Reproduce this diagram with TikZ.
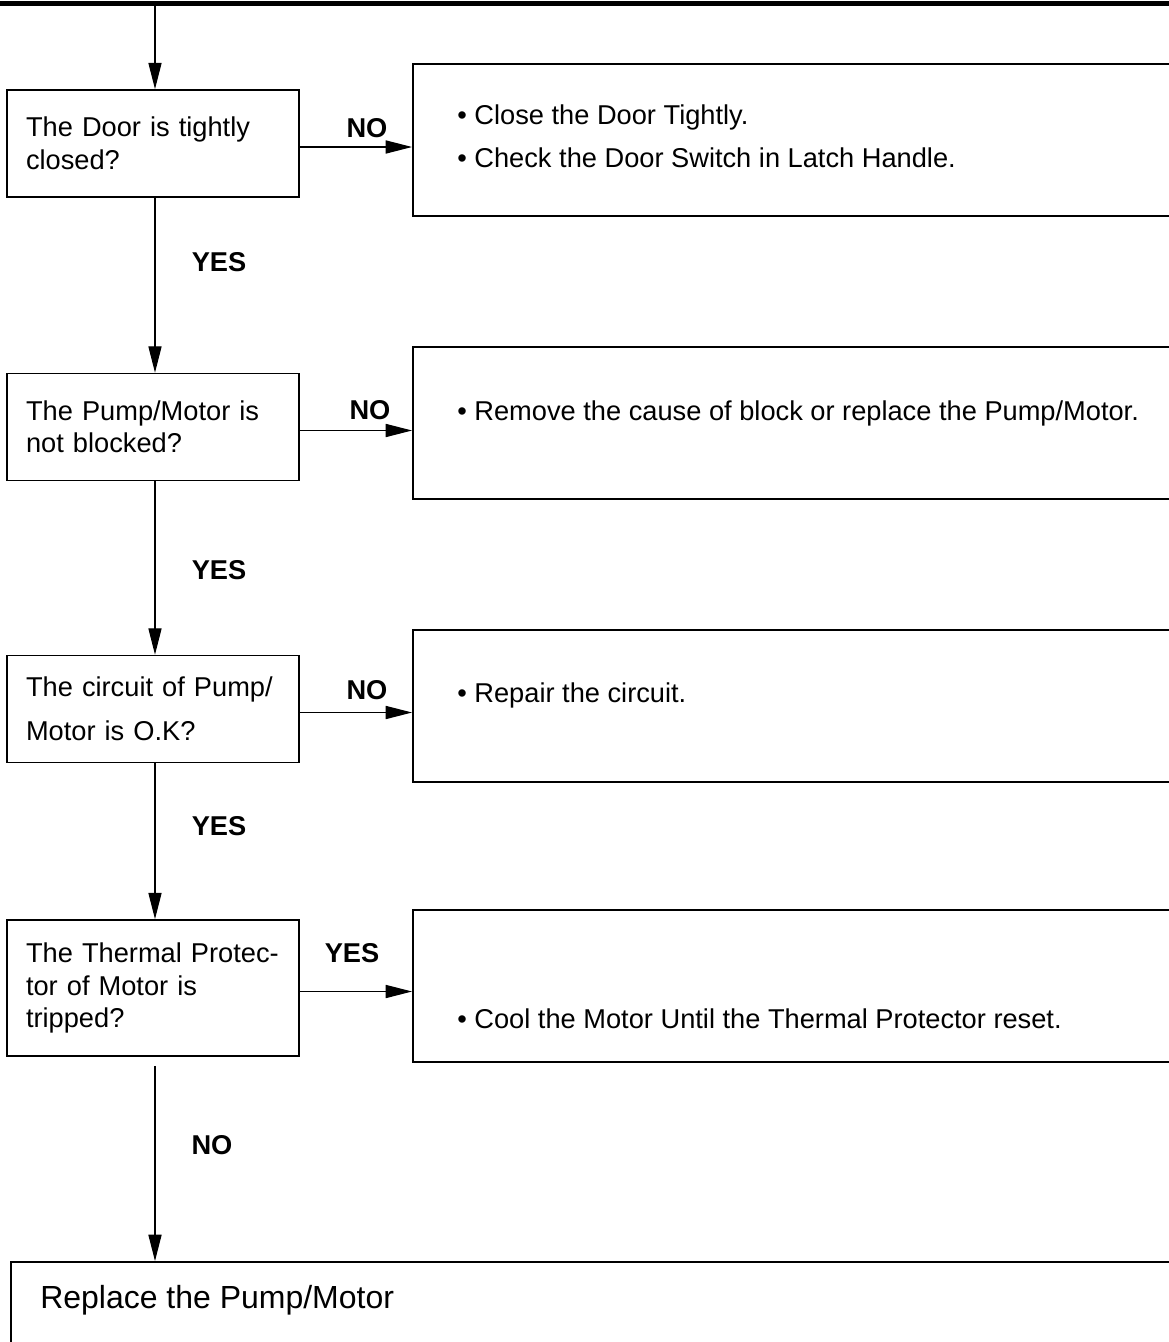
\documentclass[tikz,border=0pt]{standalone}
\usepackage{fontspec}
\setmainfont{Liberation Sans}
\usetikzlibrary{arrows.meta,positioning}
\tikzset{
  qbox/.style={
    rectangle, draw=black, line width=1pt,
    minimum width=5.84cm, minimum height=2.14cm,
    text width=5.08cm, inner xsep=0.38cm, align=left,
    font=\fontsize{15.5}{18.5}\selectfont
  },
  fixbox/.style={
    rectangle, draw=black, line width=1pt,
    minimum width=16cm, minimum height=3.04cm, anchor=west
  },
  fixtext/.style={
    anchor=west, align=left, inner sep=0pt,
    font=\fontsize{15.5}{18.5}\selectfont
  },
  answer/.style={
    font=\bfseries\fontsize{15.5}{18}\selectfont, inner sep=1pt
  },
  flowarrow/.style={
    -{Triangle[length=15pt,width=7.5pt]}, line width=0.6pt, color=black
  },
}
\begin{document}
\begin{tikzpicture}[x=0.02cm,y=-0.02cm]
  \useasboundingbox (0,0) rectangle (1169,1342);
  \clip (0,0) rectangle (1169,1342);

  % page rule at the top
  \draw[line width=2.3pt] (0,3.5) -- (1169,3.5);
  \coordinate (top) at (155,4);

  % questions
  \node[qbox] (q1) at (153,143.5) {The Door is tightly\\closed?};
  \node[qbox] (q2) at (153,427) {The Pump/Motor is\\not blocked?};
  \node[qbox, font=\fontsize{15.5}{25}\selectfont] (q3) at (153,709)
    {The circuit of Pump/\\Motor is O.K?};
  \node[qbox, minimum height=2.72cm] (q4) at (153,988)
    {The Thermal Protec-\\tor of Motor is\\tripped?};

  % remedies
  \node[fixbox] (fix1) at (412,140) {};
  \node[fixbox] (fix2) at (412,423) {};
  \node[fixbox] (fix3) at (412,706) {};
  \node[fixbox] (fix4) at (412,986) {};
  \node[fixtext] (fix1txt) at (457,136.5)
    {• Close the Door Tightly.\\[6pt]• Check the Door Switch in Latch Handle.};
  \node[fixtext] (fix2txt) at (457,413)
    {• Remove the cause of block or replace the Pump/Motor.};
  \node[fixtext] (fix3txt) at (457,695) {• Repair the circuit.};
  \node[fixtext] (fix4txt) at (457,1019)
    {• Cool the Motor Until the Thermal Protector reset.};

  \node[rectangle, draw=black, line width=1pt, anchor=north west,
    minimum width=24cm, minimum height=3cm] (repl) at (10,1261) {};
  \node[anchor=west, inner sep=0pt, font=\fontsize{18.2}{22}\selectfont]
    (repltxt) at (40,1300) {Replace the Pump/Motor};

  % answers
  \node[answer] (no1) at (367,128) {NO};
  \node[answer] (no2) at (370,410) {NO};
  \node[answer] (no3) at (367,690) {NO};
  \node[answer] (yes4) at (352,953) {YES};
  \node[answer] (yes1) at (219,262) {YES};
  \node[answer] (yes2) at (219,570) {YES};
  \node[answer] (yes3) at (219,826) {YES};
  \node[answer] (no4) at (212,1145) {NO};

  \draw[flowarrow] (top) -- (top |- q1.north);
  \draw[flowarrow] ([xshift=0.04cm]q1.south) -- ([xshift=0.04cm]q2.north);
  \draw[flowarrow] ([xshift=0.04cm]q2.south) -- ([xshift=0.04cm]q3.north);
  \draw[flowarrow] ([xshift=0.04cm]q3.south) -- ([xshift=0.04cm]q4.north);
  \draw[flowarrow] ([xshift=0.04cm,yshift=-0.18cm]q4.south)
    -- ([xshift=0.04cm]q4.south |- repl.north);

  \draw[flowarrow] ([yshift=-0.07cm]q1.east) -- ([yshift=-0.07cm]q1.east -| fix1.west);
  \draw[flowarrow] ([yshift=-0.07cm]q2.east) -- ([yshift=-0.07cm]q2.east -| fix2.west);
  \draw[flowarrow] ([yshift=-0.07cm]q3.east) -- ([yshift=-0.07cm]q3.east -| fix3.west);
  \draw[flowarrow] ([yshift=-0.07cm]q4.east) -- ([yshift=-0.07cm]q4.east -| fix4.west);
\end{tikzpicture}
\end{document}
